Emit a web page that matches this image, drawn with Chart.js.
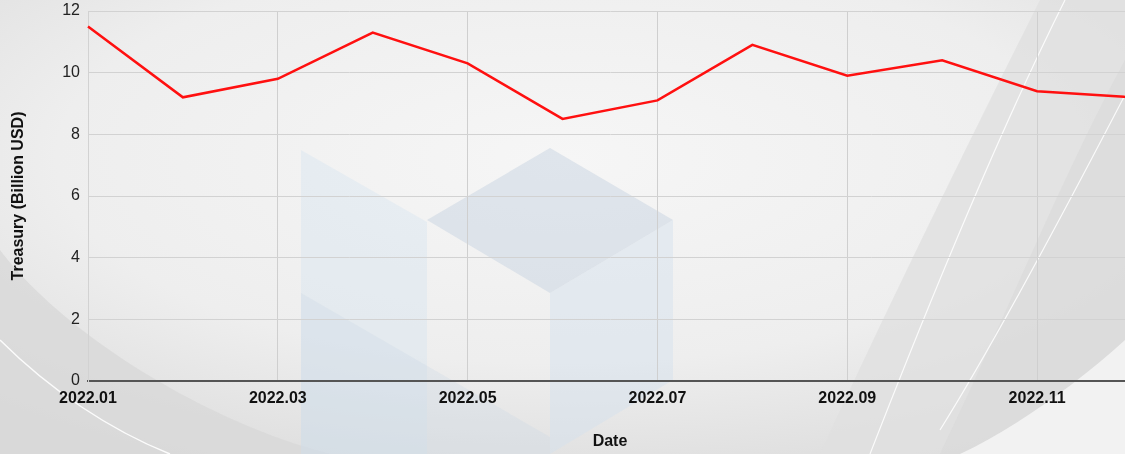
<!DOCTYPE html>
<html>
<head>
<meta charset="utf-8">
<script src="https://cdn.jsdelivr.net/npm/chart.js@4.4.1/dist/chart.umd.min.js"></script>
<style>
  html, body { margin: 0; padding: 0; width: 1125px; height: 454px; overflow: hidden; background: #efefef; }
  #bg { position: absolute; left: 0; top: 0; }
  #wrap { position: absolute; left: 0; top: 0; width: 1134px; height: 454px; }
</style>
</head>
<body>
<svg id="bg" width="1125" height="454" viewBox="0 0 1125 454">
  <defs>
    <radialGradient id="g0" cx="0.5" cy="0.35" r="0.75">
      <stop offset="0" stop-color="#f6f6f6"/>
      <stop offset="0.6" stop-color="#eeeeee"/>
      <stop offset="1" stop-color="#dcdcdc"/>
    </radialGradient>
  </defs>
  <rect x="0" y="0" width="1125" height="454" fill="url(#g0)"/>
  <!-- left bottom swoosh -->
  <path d="M0,250 C60,330 200,420 330,454 L0,454 Z" fill="#d8d8d8" opacity="0.8"/>
  <path d="M0,340 C50,390 110,430 170,454" stroke="#ffffff" stroke-width="1.5" fill="none" opacity="0.9"/>
  <!-- right swooshes -->
  <path d="M1040,0 C980,120 900,280 820,454 L1125,454 L1125,0 Z" fill="#e0e0e0" opacity="0.8"/>
  <path d="M1125,60 C1060,180 1000,330 940,454 L1125,454 Z" fill="#d8d8d8" opacity="0.5"/>
  <path d="M1065,0 C1000,130 930,300 870,454" stroke="#ffffff" stroke-width="1.2" fill="none" opacity="0.85"/>
  <path d="M1125,95 C1060,220 990,350 940,430" stroke="#ffffff" stroke-width="1.2" fill="none" opacity="0.85"/>
  <path d="M1125,340 C1070,390 1010,430 960,454 L1125,454 Z" fill="#f4f4f4" opacity="0.9"/>
  <!-- watermark -->
  <polygon points="301,150 427,222 427,454 301,454" fill="#d5e3f0" opacity="0.4"/>
  <polygon points="301,293 550,437 550,454 301,454" fill="#c9d6e4" opacity="0.3"/>
  <polygon points="427,220 550,148 673,220 550,293" fill="#c8d4e2" opacity="0.5"/>
  <polygon points="550,293 673,220 673,380 550,454" fill="#d2e0ee" opacity="0.45"/>
</svg>
<div id="wrap"><canvas id="c"></canvas></div>
<script>
const categories = ['2022.01','2022.02','2022.03','2022.04','2022.05','2022.06','2022.07','2022.08','2022.09','2022.10','2022.11','2022.12'];
const treasury = [11.5, 9.2, 9.8, 11.3, 10.3, 8.5, 9.1, 10.9, 9.9, 10.4, 9.4, 9.2];
const yTicks = [0, 2, 4, 6, 8, 10, 12];

const FONT = '"Liberation Sans", Arial, sans-serif';

new Chart(document.getElementById('c'), {
  type: 'line',
  data: {
    labels: categories,
    datasets: [{
      label: 'Treasury',
      data: treasury,
      borderColor: '#ff1010',
      borderWidth: 2.5,
      pointRadius: 0,
      tension: 0,
      fill: false
    }]
  },
  options: {
    responsive: true,
    maintainAspectRatio: false,
    animation: false,
    layout: { padding: { top: 11, right: 2, left: 0, bottom: 0 } },
    plugins: { legend: { display: false }, tooltip: { enabled: false } },
    scales: {
      x: {
        type: 'category',
        offset: false,
        grid: { color: '#cfcfcf', lineWidth: 1, drawTicks: false },
        border: { color: '#555555', width: 2 },
        ticks: {
          autoSkip: false,
          maxRotation: 0,
          padding: 8,
          color: '#111111',
          font: { family: FONT, size: 16, weight: 'bold' },
          callback: function(v, i) { return i % 2 === 0 ? this.getLabelForValue(v) : null; }
        },
        title: {
          display: true,
          text: 'Date',
          color: '#111111',
          font: { family: FONT, size: 16, weight: 'bold' },
          padding: { top: 0, bottom: 3 }
        },
        afterFit: function(s) { s.height = 73; }
      },
      y: {
        min: 0,
        max: 12,
        afterBuildTicks: function(s) { s.ticks = yTicks.map(v => ({ value: v })); },
        grid: { color: '#d2d2d2', lineWidth: 1, drawTicks: false },
        border: { color: '#d2d2d2', width: 1 },
        ticks: {
          padding: 8,
          color: '#222222',
          font: { family: FONT, size: 16 }
        },
        title: {
          display: true,
          text: 'Treasury (Billion USD)',
          color: '#111111',
          font: { family: FONT, size: 16, weight: 'bold' },
          padding: { top: 9, bottom: 0 }
        },
        afterFit: function(s) { s.width = 88; s.paddingTop = 0; s.paddingBottom = 0; }
      }
    }
  }
});
</script>
</body>
</html>
